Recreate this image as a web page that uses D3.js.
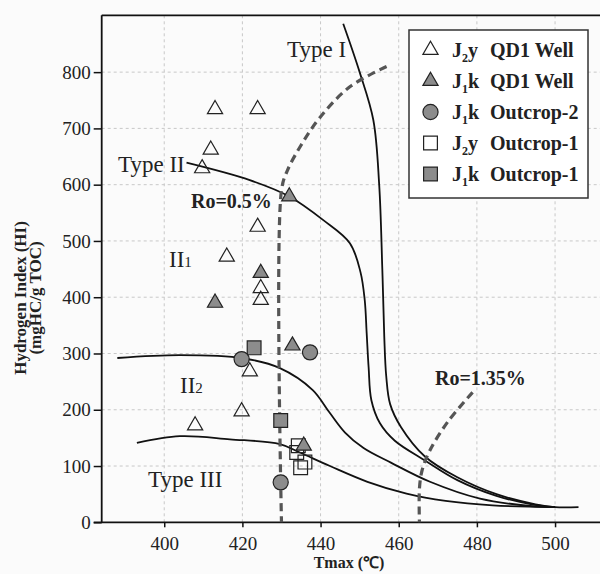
<!DOCTYPE html>
<html>
<head>
<meta charset="utf-8">
<script src="https://cdn.jsdelivr.net/npm/d3@7"></script>
<style>
  body { margin: 0; background: #fbfbfb; }
  svg { display: block; }
</style>
</head>
<body>
<div id="chart"></div>
<script>
// axis ticks
const xTicks = [400, 420, 440, 460, 480, 500];
const yTicks = [0, 100, 200, 300, 400, 500, 600, 700, 800];

// samples [Tmax, HI]
const j2yQD1 = [[413, 734], [423.9, 734], [411.9, 662], [409.7, 629], [423.9, 525], [416, 472],
  [424.7, 416], [424.7, 395], [421.9, 268], [419.8, 197], [407.9, 172]];
const j1kQD1 = [[432, 579], [424.7, 443], [413, 390], [432.8, 314], [435.7, 136]];
const j1kOut2 = [[437.3, 302], [419.8, 290], [429.8, 71]];
const j2yOut1 = [[434.3, 136], [433.9, 124], [436, 107], [434.9, 97]];
const j1kOut1 = [[423, 310], [429.8, 181]];

// kerogen type boundaries
const typeI = [[445.8, 886], [450, 800], [453.5, 715], [455, 600], [455.8, 450], [456.3, 330],
  [456.8, 260], [457.8, 210], [460.6, 169], [466.7, 117], [475, 80], [485, 50], [495, 32], [500, 27], [506, 27]];
const typeII = [[405.7, 639], [421.9, 608], [432, 579], [440.7, 537], [447.5, 496], [450.2, 445],
  [451.3, 395], [451.8, 336], [452.3, 275], [453, 217], [455.2, 176], [459, 145], [466.7, 110],
  [475, 75], [485, 47], [494, 32], [500, 27]];
const typeII2 = [[388, 292], [404, 297], [420.2, 291.5], [429.6, 274], [438, 235], [442.2, 196],
  [446.2, 160], [451, 132], [458, 106], [468, 72], [480.8, 42], [493.6, 29], [500, 27]];
const typeIII = [[393, 141], [404, 153], [416.8, 147.5], [429.6, 139], [434.7, 124], [442.4, 100],
  [452, 72], [462, 51], [472, 38], [484, 30], [500, 27]];
const ro05 = [[456.9, 810], [447.5, 774], [439.8, 719], [435, 670], [431.5, 625], [430, 590], [430, 0]];
const ro135 = [[478.9, 231], [472.6, 179], [468, 128], [466, 93], [465.3, 60], [465.3, 0]];

const legendItems = [
  { sub: "2", tail: "y", name: "QD1 Well", shape: "tri", fill: "#fff" },
  { sub: "1", tail: "k", name: "QD1 Well", shape: "tri", fill: "#8c8c8c" },
  { sub: "1", tail: "k", name: "Outcrop-2", shape: "circle", fill: "#8c8c8c" },
  { sub: "2", tail: "y", name: "Outcrop-1", shape: "square", fill: "#fff" },
  { sub: "1", tail: "k", name: "Outcrop-1", shape: "square", fill: "#8c8c8c" }
];

const width = 600, height = 574;
const serif = "Liberation Serif, Times New Roman, serif";

const svg = d3.select("#chart")
  .append("svg")
  .attr("width", width)
  .attr("height", height)
  .attr("font-family", serif);

const x = d3.scaleLinear().domain([384, 511.5]).range([101.7, 600]);
const y = d3.scaleLinear().domain([0, 901]).range([522.3, 15.3]);

// grid
svg.append("g")
  .selectAll("line")
  .data(xTicks)
  .join("line")
  .attr("x1", d => x(d)).attr("x2", d => x(d))
  .attr("y1", y(0)).attr("y2", y(901))
  .attr("stroke", "#c8c8c8")
  .attr("stroke-dasharray", "3,3");

svg.append("g")
  .selectAll("line")
  .data(yTicks.filter(d => d > 0))
  .join("line")
  .attr("x1", x(384)).attr("x2", width)
  .attr("y1", d => y(d)).attr("y2", d => y(d))
  .attr("stroke", "#c8c8c8")
  .attr("stroke-dasharray", "3,3");

// axes
const xAxis = svg.append("g")
  .attr("transform", `translate(0,${y(0)})`)
  .call(d3.axisBottom(x).tickValues(xTicks).tickSize(5).tickSizeOuter(0));
const yAxis = svg.append("g")
  .attr("transform", `translate(${x(384)},0)`)
  .call(d3.axisLeft(y).tickValues(yTicks).tickSize(8).tickSizeOuter(0));

[xAxis, yAxis].forEach(g => {
  g.attr("font-family", serif).attr("font-size", 19);
  g.select(".domain").attr("stroke", "#111").attr("stroke-width", 1.8);
  g.selectAll(".tick line").attr("stroke", "#111").attr("stroke-width", 1.5);
  g.selectAll(".tick text").attr("fill", "#222");
});
xAxis.selectAll(".tick text").attr("dy", "1.05em");
yAxis.select(".domain").attr("d", `M0,${y(0)}V${y(901)}`);
xAxis.select(".domain").attr("d", `M${x(384) - 8},0H${width}`);

// top border
svg.append("line")
  .attr("x1", x(384)).attr("x2", width)
  .attr("y1", y(901)).attr("y2", y(901))
  .attr("stroke", "#111")
  .attr("stroke-width", 1.8);

// axis titles
svg.append("text")
  .attr("x", 349)
  .attr("y", 568)
  .attr("text-anchor", "middle")
  .attr("font-weight", "bold")
  .attr("font-size", 16)
  .attr("fill", "#222")
  .text("Tmax (\u2103)");

const yTitle = svg.append("text")
  .attr("transform", "translate(26,298) rotate(-90)")
  .attr("text-anchor", "middle")
  .attr("font-weight", "bold")
  .attr("font-size", 17)
  .attr("fill", "#222");
yTitle.append("tspan").attr("x", 0).attr("y", 0).text("Hydrogen Index (HI)");
yTitle.append("tspan").attr("x", 0).attr("y", 15).text("(mgHC/g TOC)");

// curves
const line = d3.line()
  .x(d => x(d[0]))
  .y(d => y(d[1]))
  .curve(d3.curveCatmullRom.alpha(0.5));

[typeI, typeII, typeII2, typeIII].forEach(c => {
  svg.append("path")
    .attr("d", line(c))
    .attr("fill", "none")
    .attr("stroke", "#111")
    .attr("stroke-width", 1.8);
});

[ro05, ro135].forEach(c => {
  svg.append("path")
    .attr("d", line(c))
    .attr("fill", "none")
    .attr("stroke", "#555")
    .attr("stroke-width", 3.2)
    .attr("stroke-dasharray", "8,5");
});

// labels
const plain = [
  { t: "Type I", x: 287, y: 57 },
  { t: "Type II", x: 118, y: 172 },
  { t: "Type III", x: 148, y: 487 }
];
svg.selectAll(".plain")
  .data(plain)
  .join("text")
  .attr("class", "plain")
  .attr("x", d => d.x)
  .attr("y", d => d.y)
  .attr("font-size", 23)
  .attr("fill", "#222")
  .text(d => d.t);

[{ s: "1", x: 169, y: 267 }, { s: "2", x: 180, y: 393 }].forEach(d => {
  const t = svg.append("text")
    .attr("x", d.x)
    .attr("y", d.y)
    .attr("font-size", 23)
    .attr("fill", "#222");
  t.append("tspan").text("II");
  t.append("tspan").attr("font-size", 15).text(d.s);
});

svg.append("text")
  .attr("x", 191).attr("y", 208)
  .attr("font-size", 20).attr("font-weight", "bold").attr("fill", "#222")
  .text("Ro=0.5%");
svg.append("text")
  .attr("x", 435).attr("y", 385)
  .attr("font-size", 20).attr("font-weight", "bold").attr("fill", "#222")
  .text("Ro=1.35%");

// markers
const triangle = d3.symbol().type(d3.symbolTriangle).size(100);
const square = d3.symbol().type(d3.symbolSquare).size(190);
const circle = d3.symbol().type(d3.symbolCircle).size(180);
const shapes = { tri: triangle, square: square, circle: circle };

function drawPoints(data, shape, fill) {
  svg.append("g")
    .selectAll("path")
    .data(data)
    .join("path")
    .attr("transform", d => `translate(${x(d[0])},${y(d[1])})`)
    .attr("d", shapes[shape]())
    .attr("fill", fill)
    .attr("stroke", "#222")
    .attr("stroke-width", 1.2);
}

drawPoints(j2yOut1, "square", "none");
drawPoints(j1kOut1, "square", "#8c8c8c");
drawPoints(j1kOut2, "circle", "#8c8c8c");
drawPoints(j2yQD1, "tri", "none");
drawPoints(j1kQD1, "tri", "#8c8c8c");

// legend
const legend = svg.append("g");
legend.append("rect")
  .attr("x", 409).attr("y", 30)
  .attr("width", 179).attr("height", 168)
  .attr("fill", "#fff")
  .attr("stroke", "#333")
  .attr("stroke-width", 1.5);

const rows = legend.selectAll(".row")
  .data(legendItems)
  .join("g")
  .attr("class", "row")
  .attr("transform", (d, i) => `translate(0,${50 + i * 31})`);

rows.append("path")
  .attr("transform", "translate(430.5,0)")
  .attr("d", d => shapes[d.shape]())
  .attr("fill", d => d.fill)
  .attr("stroke", "#222")
  .attr("stroke-width", 1.2);

const lab = rows.append("text")
  .attr("x", 452)
  .attr("y", 7)
  .attr("font-size", 20)
  .attr("font-weight", "bold")
  .attr("fill", "#222");
lab.append("tspan").text("J");
lab.append("tspan").attr("font-size", 12).attr("dy", 5).text(d => d.sub);
lab.append("tspan").attr("dy", -5).text(d => d.tail);

rows.append("text")
  .attr("x", 490)
  .attr("y", 7)
  .attr("font-size", 20)
  .attr("font-weight", "bold")
  .attr("fill", "#222")
  .text(d => d.name);
</script>
</body>
</html>
